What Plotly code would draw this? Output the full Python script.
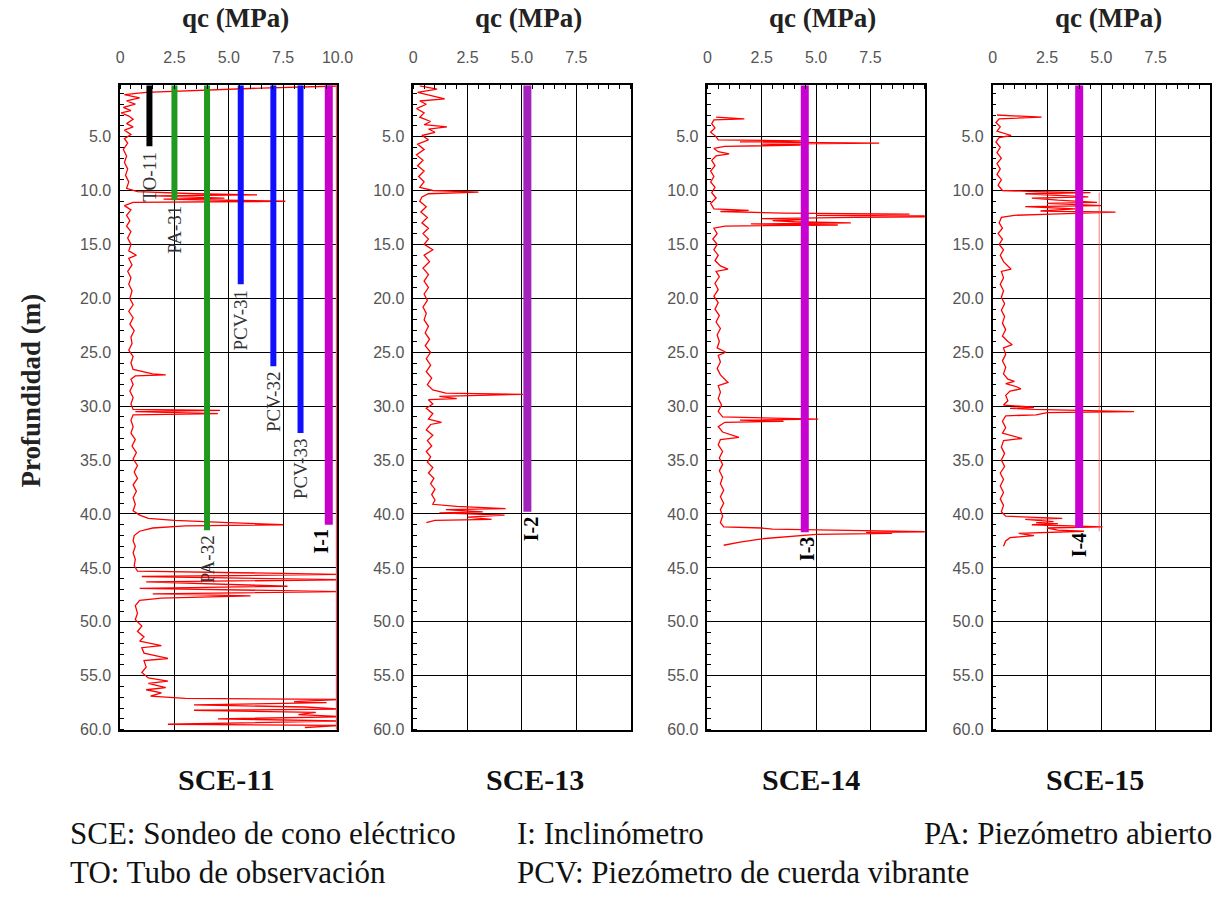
import plotly.graph_objects as go

# ---------------- data ----------------
panel_names = ["SCE-11", "SCE-13", "SCE-14", "SCE-15"]
x_tick_vals = [0, 2.5, 5, 7.5, 10]
x_tick_text_full = ["0", "2.5", "5.0", "7.5", "10.0"]
x_tick_text_short = ["0", "2.5", "5.0", "7.5", ""]
y_tick_vals = [5, 10, 15, 20, 25, 30, 35, 40, 45, 50, 55, 60]
y_tick_text = ["5.0", "10.0", "15.0", "20.0", "25.0", "30.0", "35.0", "40.0",
               "45.0", "50.0", "55.0", "60.0"]

sce11_depth = [0.3, 0.5, 0.9, 1.1, 1.4, 1.7, 2.0, 2.3, 2.6, 2.8, 3.1, 3.4, 3.8, 4.1, 4.4, 4.8,
               5.2, 5.6, 6.2, 6.8, 7.4, 8.0, 8.6, 9.2, 9.8, 10.1, 10.3, 10.4, 10.5, 10.7, 10.8,
               11.0, 11.1, 11.4, 11.8, 12.3, 12.8, 13.3, 13.8, 14.4, 15.0, 15.6, 16.0, 16.3,
               16.9, 17.5, 18.1, 18.7, 19.3, 20.0, 20.6, 21.2, 21.8, 22.4, 23.0, 23.6, 24.2,
               24.8, 25.4, 26.0, 26.6, 27.0, 27.1, 27.2, 27.5, 28.0, 28.6, 29.2, 29.8, 30.3,
               30.4, 30.5, 30.7, 30.8, 31.3, 31.9, 32.5, 33.1, 33.7, 34.3, 34.9, 35.5, 36.1,
               36.7, 37.3, 37.9, 38.5, 39.1, 39.7, 40.1, 40.4, 40.6, 40.8, 41.0, 41.1, 41.3,
               41.6, 42.0, 42.5, 43.0, 43.6, 44.2, 44.8, 45.3, 45.6, 45.8, 46.1, 46.3, 46.7,
               46.9, 47.2, 47.4, 47.6, 47.8, 48.0, 48.5, 49.2, 49.8, 50.4, 50.9, 51.4, 51.8,
               52.2, 52.4, 52.9, 53.4, 53.6, 54.2, 54.7, 55.2, 55.5, 55.7, 56.1, 56.3, 56.6,
               56.9, 57.1, 57.2, 57.4, 57.5, 57.7, 57.9, 58.1, 58.2, 58.4, 58.6, 58.8, 59.0,
               59.2, 59.3, 59.5, 59.6, 59.8]
sce11_qc = [10.2, 6.5, 1.2, 0.2, 0.9, 0.3, 0.7, 0.15, 0.5, 0.05, 0.4, 0.6, 0.3, 0.6, 0.2, 0.5,
            0.2, 0.35, 0.15, 0.3, 0.2, 0.35, 0.25, 0.4, 0.3, 0.8, 3.5, 6.3, 1.5, 4.8, 2.0,
            7.6, 0.6, 0.2, 0.5, 0.3, 0.45, 0.3, 0.5, 0.35, 0.5, 0.4, 0.75, 0.4,
            0.55, 0.35, 0.5, 0.4, 0.55, 0.45, 0.6, 0.4, 0.6, 0.45, 0.65, 0.5, 0.55,
            0.4, 0.6, 0.5, 0.6, 1.5, 2.1, 0.7, 0.5, 0.6, 0.45, 0.6, 0.5, 0.6,
            4.6, 0.7, 4.5, 0.6, 0.5, 0.6, 0.5, 0.7, 0.55, 0.75, 0.6, 0.8, 0.65,
            0.8, 0.6, 0.75, 0.6, 0.7, 0.6, 0.9, 1.3, 2.5, 5.0, 7.5, 3.0, 1.5,
            0.9, 0.65, 0.6, 0.7, 0.6, 0.7, 0.65, 0.8, 10.3, 1.0, 10.3, 1.2, 7.7,
            0.9, 10.3, 1.5, 6.0, 1.9, 0.9, 0.7, 0.8, 0.7, 1.0, 0.8, 1.1, 0.9,
            1.9, 1.0, 1.1, 2.2, 1.1, 1.2, 1.0, 1.3, 2.2, 1.3, 2.1, 1.2, 1.9,
            1.4, 3.0, 10.3, 8.0, 9.5, 3.4, 8.5, 10.3, 3.4, 9.0, 8.2, 10.3, 4.5,
            10.3, 8.0, 2.2, 10.3, 8.5]

sce13_depth = [0.3, 0.6, 0.9, 1.2, 1.5, 1.7, 2.0, 2.4, 2.8, 3.2, 3.6, 3.9, 4.1, 4.3, 4.6, 4.9,
               5.3, 5.7, 6.2, 6.7, 7.2, 7.7, 8.2, 8.7, 9.2, 9.7, 10.0, 10.15, 10.3, 10.6, 11.0,
               11.5, 12.0, 12.5, 13.0, 13.5, 14.0, 14.5, 15.0, 15.5, 16.0, 16.6, 17.2, 17.8,
               18.4, 19.0, 19.6, 20.2, 20.8, 21.4, 22.0, 22.6, 23.2, 23.8, 24.4, 25.0, 25.6,
               26.2, 26.8, 27.4, 28.0, 28.5, 28.8, 28.9, 29.0, 29.1, 29.3, 29.4, 29.8, 30.2,
               30.7, 31.2, 31.5, 31.7, 32.2, 32.7, 33.2, 33.7, 34.2, 34.7, 35.2, 35.7, 36.2,
               36.7, 37.2, 37.7, 38.2, 38.7, 39.1, 39.3, 39.5, 39.6, 39.8, 39.9, 40.1, 40.3,
               40.5, 40.6, 40.8]
sce13_qc = [0.3, 1.1, 0.2, 0.8, 1.45, 0.3, 0.6, 0.15, 0.5, 0.3, 0.8, 0.5, 1.55, 0.7, 1.0, 0.4,
            0.7, 0.2, 0.5, 0.15, 0.45, 0.2, 0.5, 0.25, 0.5, 0.3, 0.9, 3.0, 0.7, 0.4, 0.3,
            0.6, 0.35, 0.65, 0.4, 0.7, 0.45, 0.7, 0.5, 0.9, 0.5, 0.75, 0.45, 0.7,
            0.5, 0.7, 0.5, 0.65, 0.45, 0.6, 0.5, 0.7, 0.55, 0.75, 0.55, 0.8, 0.6,
            0.8, 0.6, 0.85, 0.65, 0.9, 1.5, 5.05, 3.5, 1.2, 2.0, 0.7, 0.9, 0.6,
            0.9, 0.7, 1.3, 0.8, 0.6, 0.9, 0.65, 0.85, 0.6, 0.8, 0.65, 0.9, 0.7,
            0.95, 0.8, 1.0, 0.85, 1.0, 0.9, 2.0, 4.25, 1.5, 3.2, 1.2, 4.2, 2.5,
            3.6, 1.0, 0.6]

sce14_depth = [3.2, 3.35, 3.45, 3.8, 4.2, 4.6, 5.0, 5.3, 5.4, 5.5, 5.6, 5.7, 5.8, 5.9, 6.1,
               6.4, 6.6, 6.8, 7.2, 7.7, 8.2, 8.7, 9.2, 9.7, 10.2, 10.7, 11.2, 11.7, 11.85,
               11.95, 12.1, 12.2, 12.3, 12.4, 12.5, 12.6, 12.7, 12.8, 12.9, 13.0, 13.1, 13.2,
               13.3, 13.5, 14.0, 14.5, 15.0, 15.5, 16.0, 16.5, 17.0, 17.3, 17.5, 18.0, 18.6,
               19.2, 19.8, 20.4, 21.0, 21.6, 22.2, 22.8, 23.4, 24.0, 24.6, 25.0, 25.3, 25.9,
               26.5, 27.1, 27.8, 28.1, 28.7, 29.3, 29.9, 30.5, 31.0, 31.1, 31.2, 31.3, 31.4,
               31.5, 31.9, 32.4, 32.9, 33.1, 33.6, 34.2, 34.8, 35.4, 36.0, 36.6, 37.2, 37.8,
               38.4, 39.0, 39.6, 40.2, 40.8, 41.2, 41.3, 41.4, 41.5, 41.6, 41.65, 41.7, 41.8,
               41.9, 42.1, 42.3, 42.6, 42.9]
sce14_qc = [0.4, 1.7, 0.3, 0.2, 0.35, 0.15, 0.4, 0.5, 4.3, 1.5, 7.9, 2.5, 4.3, 0.8, 0.3,
            0.5, 1.0, 0.4, 0.2, 0.35, 0.15, 0.3, 0.15, 0.35, 0.2, 0.4, 0.15, 0.3, 1.9,
            0.6, 3.5, 9.3, 5.0, 12.5, 6.8, 2.5, 4.5, 3.0, 4.0, 6.6, 2.0, 6.0,
            0.8, 0.3, 0.45, 0.25, 0.45, 0.3, 0.5, 0.35, 0.6, 0.95, 0.4, 0.55, 0.35,
            0.5, 0.3, 0.5, 0.35, 0.55, 0.4, 0.6, 0.45, 0.55, 0.45, 0.85, 0.5, 0.6,
            0.45, 0.6, 0.95, 0.5, 0.6, 0.5, 0.65, 0.5, 0.7, 2.5, 5.1, 1.5, 3.5,
            0.8, 0.5, 0.7, 1.45, 0.6, 0.5, 0.7, 0.55, 0.7, 0.55, 0.7, 0.6, 0.75,
            0.6, 0.75, 0.6, 0.7, 0.6, 0.75, 2.5, 3.0, 6.5, 8.7, 10.2, 7.3, 8.5,
            5.0, 3.9, 2.5, 1.5, 0.75]

sce15_depth = [3.0, 3.2, 3.35, 3.7, 4.1, 4.5, 4.9, 5.1, 5.5, 6.0, 6.5, 7.0, 7.5, 8.0, 8.5,
               9.0, 9.5, 10.0, 10.1, 10.2, 10.3, 10.5, 10.6, 10.7, 10.9, 11.1, 11.2, 11.4,
               11.5, 11.7, 11.9, 12.0, 12.1, 12.2, 12.3, 12.5, 13.0, 13.5, 14.0, 14.5, 15.0,
               15.5, 16.0, 16.6, 17.3, 17.5, 18.1, 18.7, 19.3, 19.9, 20.5, 21.1, 21.7, 22.3,
               22.9, 23.5, 24.0, 24.3, 24.6, 25.2, 25.8, 26.4, 27.0, 27.5, 27.7, 27.9, 28.2,
               28.4, 28.6, 29.0, 29.5, 29.9, 30.1, 30.2, 30.3, 30.4, 30.5, 30.6, 30.8, 30.9,
               31.4, 32.0, 32.5, 33.0, 33.2, 33.8, 34.4, 35.0, 35.6, 36.2, 36.8, 37.4, 38.0,
               38.6, 39.2, 39.8, 40.2, 40.4, 40.5, 40.7, 40.8, 40.9, 41.0, 41.2, 41.3, 41.5,
               41.6, 41.8, 42.0, 42.2, 42.5, 43.0]
sce15_qc = [0.2, 2.25, 0.3, 0.15, 0.35, 0.2, 0.85, 0.3, 0.15, 0.35, 0.2, 0.4, 0.2, 0.35, 0.2,
            0.4, 0.25, 0.45, 2.0, 4.5, 1.5, 3.2, 4.4, 1.8, 3.0, 4.8, 2.5, 5.0,
            1.5, 3.8, 2.2, 5.65, 3.5, 2.7, 1.0, 0.4, 0.3, 0.45, 0.25, 0.45, 0.3,
            0.5, 0.35, 0.5, 0.85, 0.4, 0.5, 0.35, 0.5, 0.4, 0.55, 0.4, 0.55, 0.45,
            0.6, 0.45, 0.7, 0.9, 0.5, 0.6, 0.45, 0.6, 0.5, 0.7, 1.0, 0.6, 1.1,
            1.3, 0.8, 0.6, 0.7, 0.5, 1.9, 0.8, 1.9, 4.9, 6.5, 2.5, 2.0, 0.6,
            0.45, 0.6, 0.45, 1.35, 0.5, 0.4, 0.55, 0.4, 0.55, 0.35, 0.5, 0.35, 0.5,
            0.35, 0.5, 0.4, 0.6, 3.2, 1.5, 2.8, 2.0, 3.0, 1.8, 5.05, 2.5, 3.0,
            4.2, 1.2, 1.9, 0.8, 0.6, 0.5]

# faint secondary line in SCE-15
sce15_faint_depth = [10.2, 41.6]
sce15_faint_qc = [4.9, 4.9]

# instruments
inst_panel = [0, 0, 0, 0, 0, 0, 0, 1, 2, 3]
inst_name = ["TO-11", "PA-31", "PA-32", "PCV-31", "PCV-32", "PCV-33", "I-1", "I-2", "I-3", "I-4"]
inst_x = [1.35, 2.5, 4.0, 5.55, 7.05, 8.3, 9.6, 5.25, 4.48, 3.98]
inst_bottom = [5.9, 10.9, 41.5, 18.7, 26.3, 32.5, 41.0, 39.8, 41.7, 41.3]
inst_top = [0.25, 0.25, 0.25, 0.25, 0.25, 0.25, 0.25, 0.25, 0.25, 0.25]
inst_color = ["#000000", "#1f9a1f", "#1f9a1f", "#1010ff", "#1010ff", "#1010ff",
              "#c800c8", "#a323bd", "#c800d0", "#c800d0"]
inst_label_shift = [0, 0, 0, 0, 0, 0, -8, 3, 3, 0]

legend_lines = [
    ("SCE: Sondeo de cono eléctrico", 65, 842),
    ("I: Inclinómetro", 519, 842),
    ("PA: Piezómetro abierto", 933, 842),
    ("TO: Tubo de observación", 65, 881),
    ("PCV: Piezómetro de cuerda vibrante", 519, 881),
]

# ---------------- layout constants ----------------
W, H = 1230, 902
panel_left = [118, 416, 715, 1005]
panel_width = 221
sce_label_cx = [226, 540, 820, 1109]
plot_top, plot_bottom = 86, 737
Y_MAX, Y_MIN = 60, 0.23
SERIF = "Liberation Serif, Times New Roman, serif"
SANS = "Liberation Sans, Arial, sans-serif"

fig = go.Figure()

traces = [(sce11_depth, sce11_qc), (sce13_depth, sce13_qc),
          (sce14_depth, sce14_qc), (sce15_depth, sce15_qc)]

def axname(i, letter):
    return letter if i == 0 else f"{letter}{i+1}"

for i, (d, q) in enumerate(traces):
    fig.add_trace(go.Scatter(x=q, y=d, mode="lines",
                             line=dict(color="#ff0000", width=1.3),
                             xaxis=axname(i, "x"), yaxis=axname(i, "y"),
                             hoverinfo="skip", showlegend=False))

# red right border of SCE-11 (clipped record)
fig.add_trace(go.Scatter(x=[9.97, 9.97], y=[Y_MIN, Y_MAX], mode="lines",
                         line=dict(color="#ff5050", width=2),
                         xaxis="x", yaxis="y", hoverinfo="skip", showlegend=False))
fig.add_trace(go.Scatter(x=sce15_faint_qc, y=sce15_faint_depth, mode="lines",
                         line=dict(color="rgba(255,60,60,0.7)", width=1),
                         xaxis="x4", yaxis="y4", hoverinfo="skip", showlegend=False))

annotations = []
for k in range(len(inst_name)):
    p = inst_panel[k]
    is_i = inst_name[k].startswith("I-")
    w = 8 if is_i else 6
    fig.add_trace(go.Scatter(x=[inst_x[k], inst_x[k]], y=[inst_top[k], inst_bottom[k]],
                             mode="lines", line=dict(color=inst_color[k], width=w),
                             xaxis=axname(p, "x"), yaxis=axname(p, "y"),
                             hoverinfo="skip", showlegend=False))
    annotations.append(dict(
        x=inst_x[k], y=inst_bottom[k], xref=axname(p, "x"), yref=axname(p, "y"),
        text=f"<b>{inst_name[k]}</b>" if is_i else inst_name[k],
        showarrow=False, textangle=-90, xanchor="center", yanchor="top", yshift=-3,
        xshift=inst_label_shift[k],
        font=dict(family=SERIF, size=20 if is_i else 19, color="#000" if is_i else "#333")))

layout = dict(width=W, height=H, margin=dict(l=0, r=0, t=0, b=0),
              paper_bgcolor="white", plot_bgcolor="white", showlegend=False,
              hovermode=False)

for i in range(4):
    x0 = panel_left[i] / W
    x1 = (panel_left[i] + panel_width) / W
    y0 = 1 - plot_bottom / H
    y1 = 1 - plot_top / H
    xa = dict(domain=[x0, x1], range=[0, 10], side="top", anchor=axname(i, "y"),
              tickvals=x_tick_vals,
              ticktext=x_tick_text_full if i == 0 else x_tick_text_short,
              showgrid=True, gridcolor="#000", gridwidth=1,
              showline=True, linecolor="#000", linewidth=1.5, mirror=True,
              ticks="", zeroline=False, ticklabelstandoff=14,
              tickfont=dict(family=SANS, size=16, color="#555"),
              minor=dict(dtick=0.5, tick0=0, ticks="inside", ticklen=4,
                         tickcolor="#000", showgrid=False))
    ya = dict(domain=[y0, y1], range=[Y_MAX, Y_MIN], anchor=axname(i, "x"),
              tickvals=y_tick_vals, ticktext=y_tick_text,
              showgrid=True, gridcolor="#000", gridwidth=1,
              showline=True, linecolor="#000", linewidth=1.5, mirror=True,
              ticks="", zeroline=False, ticklabelstandoff=4,
              tickfont=dict(family=SANS, size=16, color="#555"),
              minor=dict(dtick=1, tick0=0, ticks="inside", ticklen=4,
                         tickcolor="#000", showgrid=False))
    layout["xaxis" if i == 0 else f"xaxis{i+1}"] = xa
    layout["yaxis" if i == 0 else f"yaxis{i+1}"] = ya

    cx = (panel_left[i] + panel_width / 2 + 7) / W
    annotations.append(dict(x=cx, y=1 - 18 / H, xref="paper", yref="paper",
                            text="<b>qc (MPa)</b>", showarrow=False,
                            xanchor="center", yanchor="middle",
                            font=dict(family=SERIF, size=27, color="#222")))
    annotations.append(dict(x=sce_label_cx[i] / W, y=1 - 787 / H,
                            xref="paper", yref="paper",
                            text=f"<b>{panel_names[i]}</b>", showarrow=False,
                            xanchor="center", yanchor="middle",
                            font=dict(family=SERIF, size=30, color="#111")))

annotations.append(dict(x=28 / W, y=1 - 395 / H, xref="paper", yref="paper",
                        text="<b>Profundidad (m)</b>", showarrow=False, textangle=-90,
                        xanchor="center", yanchor="middle",
                        font=dict(family=SERIF, size=27, color="#222")))

for txt, px, py in legend_lines:
    annotations.append(dict(x=px / W, y=1 - py / H, xref="paper", yref="paper",
                            text=txt, showarrow=False, xanchor="left", yanchor="middle",
                            font=dict(family=SERIF, size=31, color="#111")))

layout["annotations"] = annotations
fig.update_layout(**layout)
fig.write_html("out.html")
